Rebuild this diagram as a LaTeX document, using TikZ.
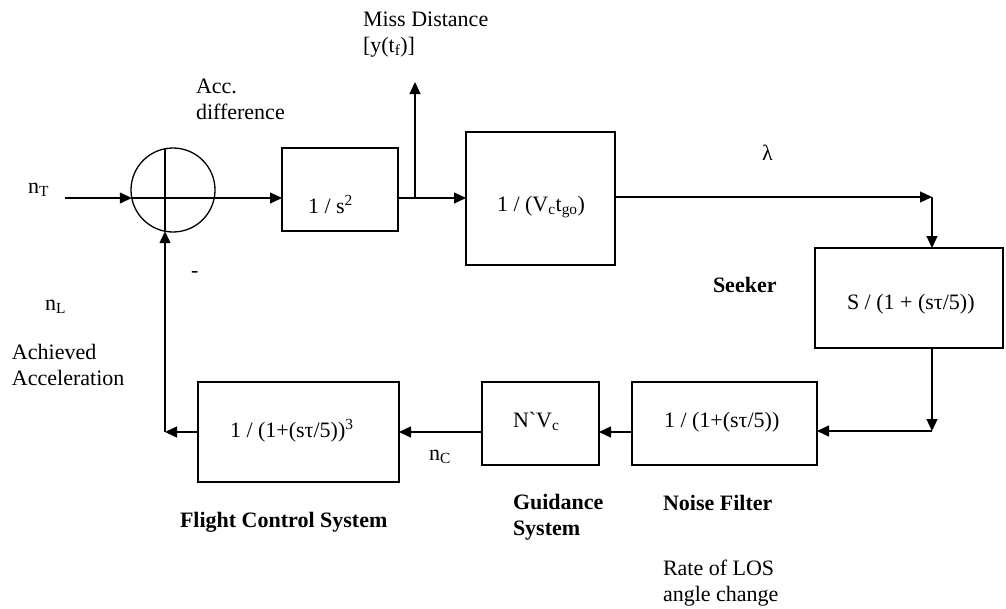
\documentclass[tikz,border=0pt]{standalone}
\usepackage{fontspec}
\setmainfont{Liberation Serif}
\newfontfamily\plainserif{Liberation Serif}
\usetikzlibrary{arrows.meta,calc}
\begin{document}
\begin{tikzpicture}[x=1pt,y=-1pt,
  font=\fontsize{22}{25.5}\selectfont,
  blk/.style={draw, line width=1.3pt, inner sep=0pt, outer sep=0pt},
  lbl/.style={anchor=base west, inner sep=0pt, outer sep=0pt, align=left},
  bold/.style={lbl, font=\fontsize{22}{25.5}\selectfont\bfseries},
  arr/.style={-{Triangle[length=12pt,width=11pt]}, line width=1.3pt},
  ln/.style={line width=1.3pt}]
\useasboundingbox (0,0) rectangle (1006,608);

% summing junction
\node[blk, circle, minimum size=84pt] (sum) at (173,190) {};
\draw[ln] ($(sum.center)+(-8,-41.2)$) -- ($(sum.center)+(-8,41.2)$);
\draw[ln] ($(sum.center)+(-41.2,8)$) coordinate (sumW) -- ($(sum.center)+(41.2,8)$) coordinate (sumE);

% blocks
\node[blk, minimum width=116pt, minimum height=83pt]  (integ)  at (340,189.5) {};
\node[blk, minimum width=149pt, minimum height=133pt] (geom)   at (540.5,198.5) {};
\node[blk, minimum width=188pt, minimum height=100pt] (seeker) at (909,298) {};
\node[blk, minimum width=185pt, minimum height=83pt]  (noise)  at (724.5,423.5) {};
\node[blk, minimum width=117pt, minimum height=83pt]  (guid)   at (540.5,423.5) {};
\node[blk, minimum width=201pt, minimum height=100pt] (fcs)    at (298.5,432) {};

% block contents
\node[lbl] (tinteg)  at (308,213) {1 / s\textsuperscript{2}};
\node[lbl] (tgeom)   at (497,211) {1 / (V\textsubscript{c}t\textsubscript{go})};
\node[lbl] (tseeker) at (847,309) {S / (1 + (sτ/5))};
\node[lbl] (tnoise)  at (664,427) {1 / (1+(sτ/5))};
\node[lbl] (tguid)   at (513,427) {N{\plainserif `}V\textsubscript{c}};
\node[lbl] (tfcs)    at (230,437) {1 / (1+(sτ/5))\textsuperscript{3}};

% free coordinates
\coordinate (nTin)  at (65,198);
\coordinate (junc)  at (415,198);
\coordinate (miss)  at (415,82);
\coordinate (losA)  at (932,197);
\coordinate (losB)  at (932,431);
\coordinate (fbk)   at (165,432);

% forward path
\draw[arr] (nTin) -- (sumW);
\draw[arr] (sumE) -- (sumE -| integ.west);
\draw[ln]  (junc -| integ.east) -- (junc);
\draw[arr] (junc) -- (miss);
\draw[arr] (junc) -- (junc -| geom.west);
\draw[arr] (losA -| geom.east) -- (losA);
\draw[arr] (losA) -- (losA |- seeker.north);
\draw[arr] (losB |- seeker.south) -- (losB);
\draw[arr] (losB) -- (losB -| noise.east);
\draw[arr] (noise.west |- fbk) -- (guid.east |- fbk);
\draw[arr] (guid.west |- fbk) -- (fcs.east |- fbk);
\draw[arr] (fcs.west |- fbk) -- (fbk);
\draw[arr] (fbk) -- ($(sum.center)+(-8,41.2)$);

% signal labels (multi-line nodes sit on their last baseline)
\node[lbl] (lnT)    at (28,193)  {n\textsubscript{T}};
\node[lbl] (lacc)   at (196,119) {Acc.\\difference};
\node[lbl] (lmiss)  at (363,52)  {Miss Distance\\{}[y(t\textsubscript{f})]};
\node[lbl] (llam)   at (762,160) {λ};
\node[lbl] (lminus) at (191,277) {-};
\node[lbl] (lnL)    at (45,310)  {n\textsubscript{L}};
\node[lbl] (lach)   at (12,385)  {Achieved\\Acceleration};
\node[lbl] (lnC)    at (429,460) {n\textsubscript{C}};
\node[lbl] (lrate)  at (663,601) {Rate of LOS\\angle change};

% block names
\node[bold] (nseek)  at (713,292) {Seeker};
\node[bold] (nnoise) at (663,510) {Noise Filter};
\node[bold] (nguid)  at (513,535) {Guidance\\System};
\node[bold] (nfcs)   at (180,527) {Flight Control System};
\end{tikzpicture}
\end{document}
